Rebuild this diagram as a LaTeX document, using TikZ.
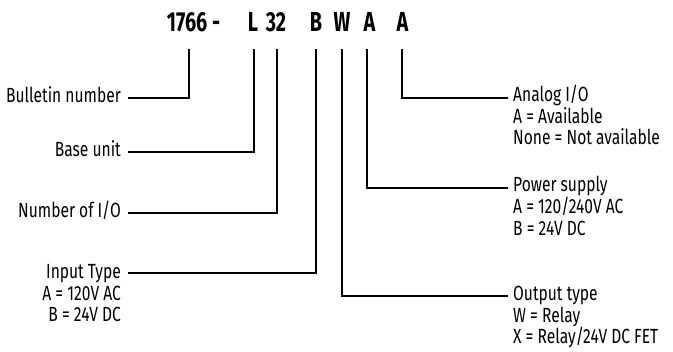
\documentclass[tikz,border=0pt]{standalone}
\usepackage{fontspec}
\setmainfont[FakeStretch=0.76]{Fira Sans}
\newfontfamily\codefont[FakeStretch=0.72]{Fira Sans}
\begin{document}
\begin{tikzpicture}[x=1pt,y=-1pt,
  lbl/.style={inner sep=0pt, font=\fontsize{20.5}{24}\selectfont},
  lbll/.style={lbl, anchor=base east},
  lblr/.style={lbl, anchor=base west},
  code/.style={inner sep=0pt, font=\codefont\fontsize{27.5}{30}\selectfont\bfseries, anchor=base},
  conn/.style={line width=2.6pt}]
\useasboundingbox (0,0) rectangle (673,352);
% code characters
\node[code] (c1) at (193.5,32) {1766 -};
\node[code] (c2) at (253,32) {L};
\node[code] (c3) at (276,32) {32};
\node[code] (c4) at (316,32) {B};
\node[code] (c5) at (342,32) {W};
\node[code] (c6) at (369.5,32) {A};
\node[code] (c7) at (402.5,32) {A};
% tick tops
\coordinate (t1) at (189,49);
\coordinate (t2) at (254,49);
\coordinate (t3) at (277,49);
\coordinate (t4) at (316,49);
\coordinate (t5) at (342,49);
\coordinate (t6) at (367,49);
\coordinate (t7) at (402,49);
% left labels
\node[lbll] (bul) at (121,103) {Bulletin number};
\node[lbll] (bas) at (121,157) {Base unit};
\node[lbll] (num) at (121,218) {Number of I/O};
\node[lbll] (inp) at (121,279) {Input Type};
\node[lbll] (inpa) at (121,301) {A = 120V AC};
\node[lbll] (inpb) at (121,322) {B = 24V DC};
% right labels
\node[lblr] (ana) at (513,102) {Analog I/O};
\node[lblr] (anaa) at (513,123.5) {A = Available};
\node[lblr] (anab) at (513,145) {None = Not available};
\node[lblr] (pow) at (513,192) {Power supply};
\node[lblr] (powa) at (513,214) {A = 120/240V AC};
\node[lblr] (powb) at (513,236) {B = 24V DC};
\node[lblr] (out) at (513,301) {Output type};
\node[lblr] (outa) at (513,323) {W = Relay};
\node[lblr] (outb) at (513,344) {X = Relay/24V DC FET};
% line ends
\coordinate (e1) at (128,98);
\coordinate (e2) at (128,152);
\coordinate (e3) at (128,213);
\coordinate (e4) at (128,273);
\coordinate (e5) at (508,296);
\coordinate (e6) at (508,188);
\coordinate (e7) at (508,98);
% connectors
\draw[conn] (t1) |- (e1);
\draw[conn] (t2) |- (e2);
\draw[conn] (t3) |- (e3);
\draw[conn] (t4) |- (e4);
\draw[conn] (t5) |- (e5);
\draw[conn] (t6) |- (e6);
\draw[conn] (t7) |- (e7);
\end{tikzpicture}
\end{document}
